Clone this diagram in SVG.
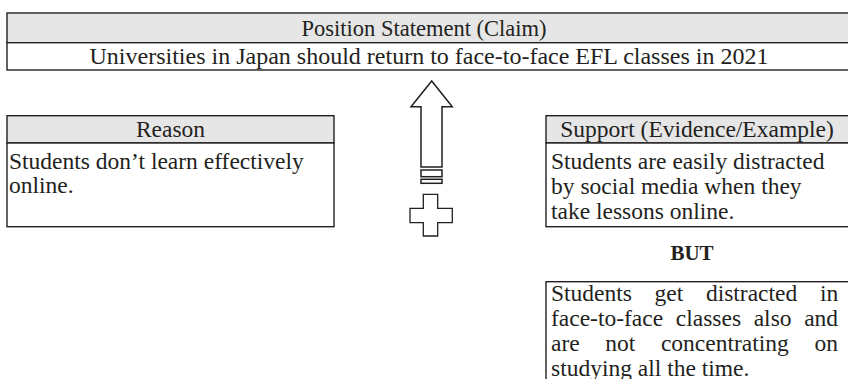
<svg xmlns="http://www.w3.org/2000/svg" width="848" height="379" viewBox="0 0 848 379">
<style>
.box{fill:#ffffff;stroke:#231f20;stroke-width:1.4}
.hdr{fill:#e6e6e6;stroke:#231f20;stroke-width:1.4}
.t{font-family:"Liberation Serif","Times New Roman",serif;font-size:23.5px;fill:#231f20}
.c{text-anchor:middle}
.b{font-weight:bold}
.sym{fill:#ffffff;stroke:#231f20;stroke-width:1.5;stroke-linejoin:miter}
</style>
<rect x="0" y="0" width="848" height="379" fill="#ffffff"/>

<g id="claim">
  <rect class="hdr" x="7" y="13" width="850" height="29.7"/>
  <rect class="box" x="7" y="42.7" width="850" height="27.3"/>
  <text class="t c" x="424" y="36" style="font-size:22.5px">Position Statement (Claim)</text>
  <text class="t c" x="429" y="63.5" style="font-size:24px">Universities in Japan should return to face-to-face EFL classes in 2021</text>
</g>

<g id="reason">
  <rect class="hdr" x="7" y="115.7" width="327" height="27.3"/>
  <rect class="box" x="7" y="143" width="327" height="83.7"/>
  <text class="t c" x="170.5" y="137">Reason</text>
  <text class="t" x="9" y="168.5">Students don’t learn effectively</text>
  <text class="t" x="9" y="193">online.</text>
</g>

<g id="support">
  <rect class="hdr" x="546" y="115.7" width="310" height="27.3"/>
  <rect class="box" x="546" y="143" width="310" height="83.7"/>
  <text class="t c" x="697" y="137">Support (Evidence/Example)</text>
  <text class="t" x="551" y="169">Students are easily distracted</text>
  <text class="t" x="551" y="194">by social media when they</text>
  <text class="t" x="551" y="219">take lessons online.</text>
</g>

<g id="but">
  <text class="t c b" x="692" y="260" style="font-size:21px">BUT</text>
</g>

<g id="counter">
  <rect class="box" x="546" y="281.7" width="310" height="110"/>
  <text class="t" y="301"><tspan x="551">Students</tspan><tspan x="654.6">get</tspan><tspan x="705.9">distracted</tspan><tspan x="819.9">in</tspan></text>
  <text class="t" y="326"><tspan x="551">face-to-face</tspan><tspan x="675.8">classes</tspan><tspan x="753.7">also</tspan><tspan x="804.2">and</tspan></text>
  <text class="t" y="351"><tspan x="551">are</tspan><tspan x="605.3">not</tspan><tspan x="660.9">concentrating</tspan><tspan x="814.4">on</tspan></text>
  <text class="t" x="551" y="376">studying all the time.</text>
</g>

<g id="connectors">
  <polygon class="sym" points="431.7,81 452.3,106.7 442,106.7 442,167 421,167 421,106.7 411,106.7"/>
  <rect class="sym" x="421" y="170" width="21" height="6.7"/>
  <rect class="sym" x="421" y="179.3" width="21" height="4"/>
</g>

<g id="plus">
  <polygon class="sym" style="stroke-width:1.3" points="423.3,194.3 437.7,194.3 437.7,208.3 452.3,208.3 452.3,222.7 437.7,222.7 437.7,236 423.3,236 423.3,222.7 410,222.7 410,208.3 423.3,208.3"/>
</g>
</svg>
